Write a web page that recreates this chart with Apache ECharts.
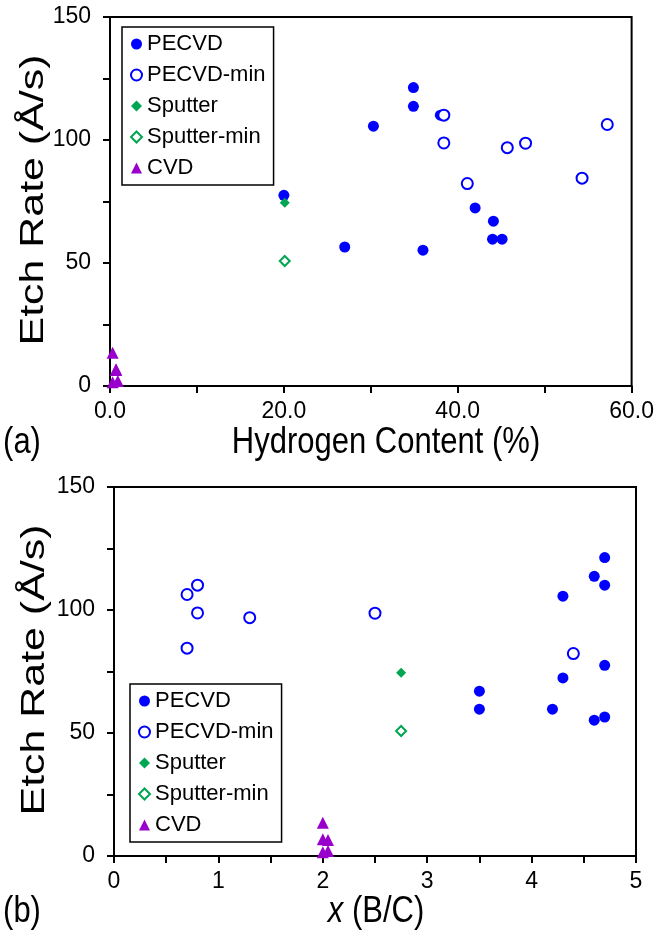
<!DOCTYPE html>
<html>
<head>
<meta charset="utf-8">
<script src="https://cdn.jsdelivr.net/npm/echarts@6/dist/echarts.min.js"></script>
<style>
html,body{margin:0;padding:0;background:#fff;}
#chart{width:657px;height:941px;}
</style>
</head>
<body>
<div id="chart"></div>
<script>
// ---- data ----
const seriesNames = ['PECVD', 'PECVD-min', 'Sputter', 'Sputter-min', 'CVD'];

// PECVD (filled)
const pecvdH    = [34.9, 34.9, 38.0, 30.3, 20.0, 27.0, 36.0, 42.0, 44.1, 44.0, 45.1];
const pecvdBC   = [4.7, 4.6, 4.7, 4.3, 4.7, 4.7, 4.6, 4.3, 3.5, 3.5, 4.2];
const pecvdRate = [121.3, 113.7, 110.1, 105.6, 77.5, 56.5, 55.2, 72.4, 67.0, 59.7, 59.7];

// PECVD-min (open)
const pecvdMinH    = [38.4, 38.4, 41.1, 45.7, 47.8, 54.3, 57.2];
const pecvdMinBC   = [0.8, 0.8, 4.4, 1.3, 2.5, 0.7, 0.7];
const pecvdMinRate = [110.1, 98.8, 82.3, 96.9, 98.7, 84.5, 106.3];

// Sputter
const sputterH = [20.1];
const sputterBC = [2.75];
const sputterRate = [74.5];

// Sputter-min
const sputterMinH = [20.1];
const sputterMinBC = [2.75];
const sputterMinRate = [50.8];

// CVD
const cvdH    = [0.3, 0.7, 0.7, 0.3, 0.9];
const cvdBC   = [2.0, 2.0, 2.05, 2.0, 2.05];
const cvdRate = [13.5, 6.8, 6.5, 1.5, 2.0];

// tick labels
const yTickLabels = [0, 50, 100, 150];
const hTickLabels = [0, 20, 40, 60];
const bcTickLabels = [0, 1, 2, 3, 4, 5];

// ---- chart ----
const FONT = "'Liberation Sans', Arial, sans-serif";
const zip = (xs, ys) => xs.map((x, i) => [x, ys[i]]);

const styles = [
  {symbol: 'circle', symbolSize: 11, itemStyle: {color: '#0000FF', opacity: 1}},
  {symbol: 'emptyCircle', symbolSize: 11, itemStyle: {color: '#0000FF', borderWidth: 1.5, opacity: 1}},
  {symbol: 'diamond', symbolSize: 10, itemStyle: {color: '#00A651', opacity: 1}},
  {symbol: 'emptyDiamond', symbolSize: 10, itemStyle: {color: '#00A651', borderWidth: 1.3, opacity: 1}},
  {symbol: 'triangle', symbolSize: 12, itemStyle: {color: '#9900CC', opacity: 1}}
];
const topData = [zip(pecvdH, pecvdRate), zip(pecvdMinH, pecvdMinRate), zip(sputterH, sputterRate), zip(sputterMinH, sputterMinRate), zip(cvdH, cvdRate)];
const botData = [zip(pecvdBC, pecvdRate), zip(pecvdMinBC, pecvdMinRate), zip(sputterBC, sputterRate), zip(sputterMinBC, sputterMinRate), zip(cvdBC, cvdRate)];

const series = [];
[topData, botData].forEach((set, gi) => {
  set.forEach((d, i) => {
    series.push(Object.assign({
      type: 'scatter', name: seriesNames[i], xAxisIndex: gi, yAxisIndex: gi,
      data: d, emphasis: {disabled: true}, animation: false
    }, styles[i]));
  });
});

const axisCommon = {
  type: 'value',
  splitLine: {show: false},
  axisLine: {show: true, onZero: false, lineStyle: {color: '#000', width: 2}},
  axisTick: {show: true, length: 7, lineStyle: {color: '#000', width: 2}},
};
const labelStyle = {color: '#000', fontSize: 23, fontFamily: FONT};

const legendCommon = {
  orient: 'vertical', data: seriesNames,
  itemWidth: 11, itemHeight: 11, itemGap: 5,
  padding: [4, 8, 4, 8],
  borderColor: '#000', borderWidth: 1.5, backgroundColor: '#fff',
  textStyle: {color: '#000', fontSize: 22, fontFamily: FONT, lineHeight: 26, padding: [0, 0, 0, 0]},
  selectedMode: false
};

const option = {
  backgroundColor: '#fff',
  animation: false,
  grid: [
    {left: 110, top: 17, width: 522, height: 369, show: true, borderColor: '#000', borderWidth: 2, containLabel: false},
    {left: 114, top: 487, width: 522, height: 369, show: true, borderColor: '#000', borderWidth: 2, containLabel: false}
  ],
  xAxis: [
    Object.assign({}, axisCommon, {gridIndex: 0, min: 0, max: 60, interval: 10,
      axisLabel: Object.assign({}, labelStyle, {margin: 14, formatter: v => hTickLabels.includes(v) ? v.toFixed(1) : ''})}),
    Object.assign({}, axisCommon, {gridIndex: 1, min: 0, max: 5, interval: 0.5,
      axisLabel: Object.assign({}, labelStyle, {margin: 14, formatter: v => bcTickLabels.includes(v) ? String(v) : ''})})
  ],
  yAxis: [
    Object.assign({}, axisCommon, {gridIndex: 0, min: 0, max: 150, interval: 25,
      axisLabel: Object.assign({}, labelStyle, {margin: 19, formatter: v => yTickLabels.includes(v) ? String(v) : ''})}),
    Object.assign({}, axisCommon, {gridIndex: 1, min: 0, max: 150, interval: 25,
      axisLabel: Object.assign({}, labelStyle, {margin: 19, formatter: v => yTickLabels.includes(v) ? String(v) : ''})})
  ],
  legend: [
    Object.assign({}, legendCommon, {left: 122, top: 27}),
    Object.assign({}, legendCommon, {left: 130, top: 684})
  ],
  graphic: [
    {type: 'text', x: 386, y: 443, scaleY: 1.2, style: {text: 'Hydrogen Content (%)', font: '31px ' + FONT, fill: '#000', align: 'center', verticalAlign: 'middle'}},
    {type: 'text', x: 22, y: 443, scaleY: 1.2, style: {text: '(a)', font: '31px ' + FONT, fill: '#000', align: 'center', verticalAlign: 'middle'}},
    {type: 'text', x: 34, y: 200, rotation: Math.PI / 2, scaleX: 1.3, style: {text: 'Etch Rate (Å/s)', font: '33px ' + FONT, fill: '#000', align: 'center', verticalAlign: 'middle'}},
    {type: 'text', x: 376, y: 912, scaleY: 1.2, style: {text: '{i|x} (B/C)', font: '31px ' + FONT, fill: '#000', align: 'center', verticalAlign: 'middle',
      rich: {i: {fontStyle: 'italic', font: 'italic 31px ' + FONT, fill: '#000'}}}},
    {type: 'text', x: 22, y: 912, scaleY: 1.2, style: {text: '(b)', font: '31px ' + FONT, fill: '#000', align: 'center', verticalAlign: 'middle'}},
    {type: 'text', x: 35, y: 670, rotation: Math.PI / 2, scaleX: 1.3, style: {text: 'Etch Rate (Å/s)', font: '33px ' + FONT, fill: '#000', align: 'center', verticalAlign: 'middle'}}
  ],
  series: series
};

const chart = echarts.init(document.getElementById('chart'), null, {renderer: 'canvas'});
chart.setOption(option);
</script>
</body>
</html>
